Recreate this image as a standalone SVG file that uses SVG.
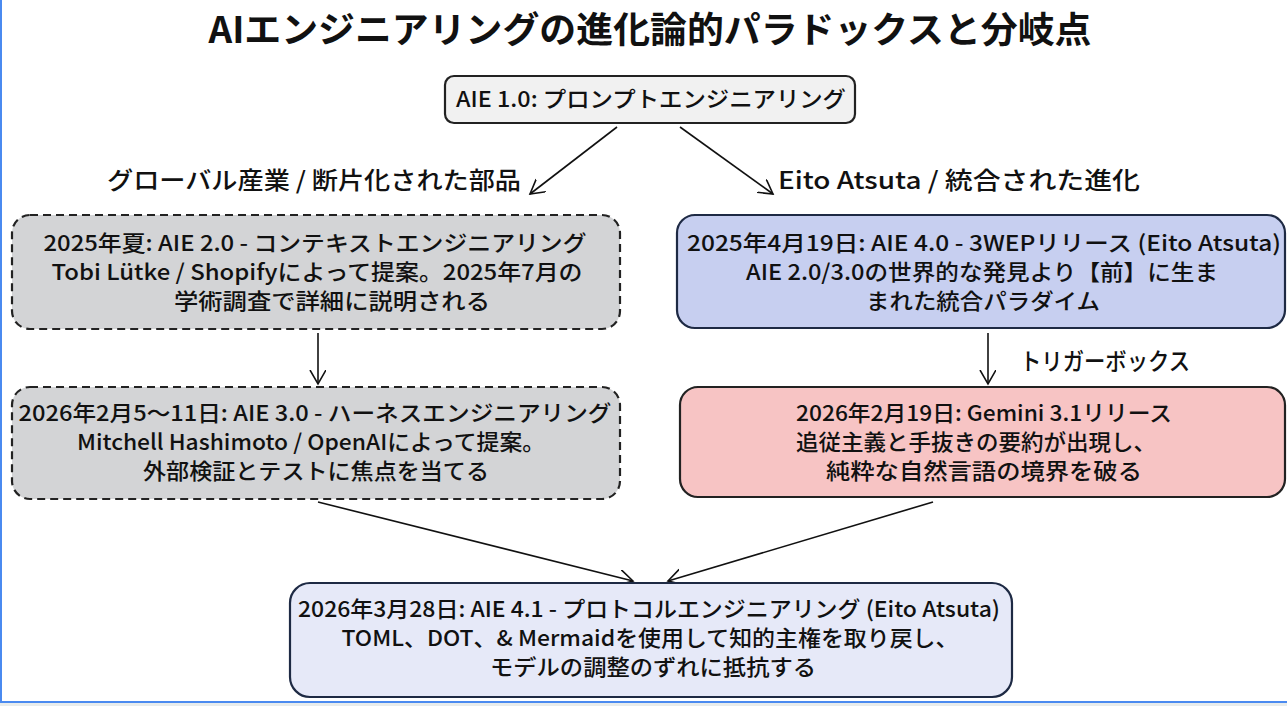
<svg xmlns="http://www.w3.org/2000/svg" width="1287" height="706" viewBox="0 0 1287 706">
<style>
text{font-family:"Noto Sans CJK JP","Noto Sans",sans-serif;fill:#111;text-anchor:middle}
.t{font-size:22px;font-weight:500}
.title{font-size:36px;font-weight:700}
.lbl{font-size:24px;font-weight:500}
.box{stroke-width:2.2}
.edge{stroke:#111;stroke-width:1.6;fill:none}
</style>
<defs>
<marker id="ah" markerWidth="20" markerHeight="20" refX="14" refY="8" orient="auto" markerUnits="userSpaceOnUse">
<path d="M0,0 L14,8 L0,16" fill="none" stroke="#111" stroke-width="1.6"/>
</marker>
</defs>
<rect x="0" y="0" width="1287" height="706" fill="#fff"/>
<rect x="0" y="703" width="1287" height="3" fill="#e8ecec"/>
<line x1="0" y1="702" x2="1287" y2="702" stroke="#4a8af0" stroke-width="2"/>
<line x1="1" y1="0" x2="1" y2="702" stroke="#4a8af0" stroke-width="2"/>

<text class="title" x="650" y="43" textLength="883" lengthAdjust="spacingAndGlyphs">AIエンジニアリングの進化論的パラドックスと分岐点</text>

<g id="connectors">
<line class="edge" x1="617" y1="127" x2="530" y2="194" marker-end="url(#ah)"/>
<line class="edge" x1="680" y1="127" x2="773" y2="194" marker-end="url(#ah)"/>
<line class="edge" x1="318" y1="333" x2="318" y2="384" marker-end="url(#ah)"/>
<line class="edge" x1="988" y1="333" x2="988" y2="384" marker-end="url(#ah)"/>
<line class="edge" x1="318" y1="502" x2="633" y2="581" marker-end="url(#ah)"/>
<line class="edge" x1="933" y1="502" x2="668" y2="581" marker-end="url(#ah)"/>
<text class="lbl" x="314" y="189" textLength="414" lengthAdjust="spacingAndGlyphs">グローバル産業 / 断片化された部品</text>
<text class="lbl" x="959" y="189" textLength="362" lengthAdjust="spacingAndGlyphs">Eito Atsuta / 統合された進化</text>
<text class="lbl" x="1105" y="370" textLength="170" lengthAdjust="spacingAndGlyphs">トリガーボックス</text>
</g>

<g id="aie10">
<rect class="box" x="445" y="76" width="410" height="47" rx="9" fill="#f1f1f1" stroke="#222"/>
<text class="t" x="651" y="107" textLength="390" lengthAdjust="spacingAndGlyphs">AIE 1.0: プロンプトエンジニアリング</text>
</g>

<g id="aie20">
<rect class="box" x="12" y="215" width="608" height="114" rx="18" fill="#d3d4d6" stroke="#222" stroke-dasharray="8,5"/>
<text class="t" x="315" y="251" textLength="543" lengthAdjust="spacingAndGlyphs">2025年夏: AIE 2.0 - コンテキストエンジニアリング</text>
<text class="t" x="317" y="280" textLength="531" lengthAdjust="spacingAndGlyphs">Tobi Lütke / Shopifyによって提案。2025年7月の</text>
<text class="t" x="332" y="309" textLength="316" lengthAdjust="spacingAndGlyphs">学術調査で詳細に説明される</text>
</g>

<g id="aie30">
<rect class="box" x="12" y="387" width="608" height="112" rx="18" fill="#d3d4d6" stroke="#222" stroke-dasharray="8,5"/>
<text class="t" x="315" y="421" textLength="593" lengthAdjust="spacingAndGlyphs">2026年2月5〜11日: AIE 3.0 - ハーネスエンジニアリング</text>
<text class="t" x="311" y="450" textLength="468" lengthAdjust="spacingAndGlyphs">Mitchell Hashimoto / OpenAIによって提案。</text>
<text class="t" x="316" y="479" textLength="346" lengthAdjust="spacingAndGlyphs">外部検証とテストに焦点を当てる</text>
</g>

<g id="aie40">
<rect class="box" x="677" y="215" width="608" height="113" rx="18" fill="#c7cff0" stroke="#1e2a44"/>
<text class="t" x="984" y="251" textLength="594" lengthAdjust="spacingAndGlyphs">2025年4月19日: AIE 4.0 - 3WEPリリース (Eito Atsuta)</text>
<text class="t" x="982" y="280" textLength="472" lengthAdjust="spacingAndGlyphs">AIE 2.0/3.0の世界的な発見より【前】に生ま</text>
<text class="t" x="983" y="309" textLength="234" lengthAdjust="spacingAndGlyphs">まれた統合パラダイム</text>
</g>

<g id="gemini">
<rect class="box" x="680" y="387" width="605" height="110" rx="18" fill="#f7c4c4" stroke="#222"/>
<text class="t" x="984" y="421" textLength="376" lengthAdjust="spacingAndGlyphs">2026年2月19日: Gemini 3.1リリース</text>
<text class="t" x="976" y="450" textLength="360" lengthAdjust="spacingAndGlyphs">追従主義と手抜きの要約が出現し、</text>
<text class="t" x="984" y="479" textLength="316" lengthAdjust="spacingAndGlyphs">純粋な自然言語の境界を破る</text>
</g>

<g id="aie41">
<rect class="box" x="290" y="583" width="722" height="114" rx="20" fill="#e6e9f8" stroke="#1e2a44"/>
<text class="t" x="649" y="617" textLength="702" lengthAdjust="spacingAndGlyphs">2026年3月28日: AIE 4.1 - プロトコルエンジニアリング (Eito Atsuta)</text>
<text class="t" x="650" y="646" textLength="617" lengthAdjust="spacingAndGlyphs">TOML、DOT、&amp; Mermaidを使用して知的主権を取り戻し、</text>
<text class="t" x="653" y="675" textLength="326" lengthAdjust="spacingAndGlyphs">モデルの調整のずれに抵抗する</text>
</g>
</svg>
